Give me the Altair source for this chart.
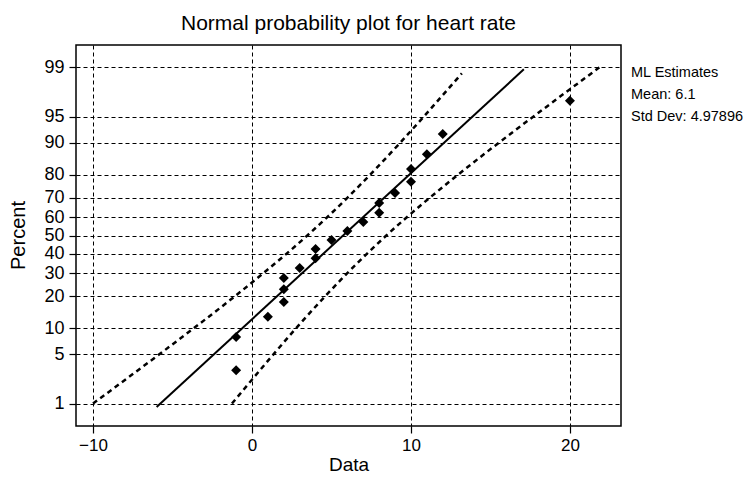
import altair as alt
import pandas as pd
from statistics import NormalDist

nd = NormalDist()

# ---- data ----
data_x = [-1, -1, 1, 2, 2, 2, 3, 4, 4, 5, 6, 7, 8, 8, 9, 10, 10, 11, 12, 20]
data_pct = [3.1, 8.0, 13.0, 17.9, 22.8, 27.8, 32.7, 37.7, 42.6, 47.5,
            52.5, 57.4, 62.3, 67.3, 72.2, 77.2, 82.1, 87.0, 92.0, 96.9]

fit_x = [-6.0, 17.1]
fit_pct = [0.88, 98.93]

left_band_x = [-10.0, -5.83, -3.65, -1.08, 0.7, 3.48, 6.01, 7.43, 9.31, 10.8, 13.2]
left_band_pct = [1, 5, 10, 20, 30, 50, 70, 80, 90, 95, 98.76]
right_band_x = [-1.26, 1.35, 2.78, 4.6, 5.98, 8.45, 11.19, 12.96, 15.51, 17.69, 21.85]
right_band_pct = [1, 5, 10, 20, 30, 50, 70, 80, 90, 95, 99]

y_ticks = [1, 5, 10, 20, 30, 40, 50, 60, 70, 80, 90, 95, 99]
x_ticks = [-10, 0, 10, 20]
x_domain = [-11.07, 23.21]
y_domain_z = [-2.637, 2.637]

ml_text = ["ML Estimates", "Mean: 6.1", "Std Dev: 4.97896"]

FONT = "Liberation Sans"


def z(p):
    return nd.inv_cdf(p / 100.0)


pts = pd.DataFrame({"x": data_x, "z": [z(p) for p in data_pct]})
fit = pd.DataFrame({"x": fit_x, "z": [z(p) for p in fit_pct]})
band = pd.concat([
    pd.DataFrame({"x": left_band_x, "z": [z(p) for p in left_band_pct], "band": "lower", "o": range(len(left_band_x))}),
    pd.DataFrame({"x": right_band_x, "z": [z(p) for p in right_band_pct], "band": "upper", "o": range(len(right_band_x))}),
])

xs = alt.Scale(domain=x_domain, nice=False, zero=False)
ys = alt.Scale(domain=y_domain_z, nice=False, zero=False)

x_axis = alt.Axis(
    values=x_ticks, title="Data", grid=True, gridDash=[4, 3], gridColor="black",
    gridOpacity=1, gridWidth=1, domain=False, tickSize=7, tickColor="black",
    tickWidth=1.2, labelFontSize=17, labelColor="black", labelPadding=4,
    titleFontSize=19, titleFontWeight="normal", titleColor="black",
    titleY=38, titleBaseline="middle", labelFont=FONT, titleFont=FONT,
)
y_axis = alt.Axis(
    values=[z(p) for p in y_ticks],
    labelExpr="round(cumulativeNormal(datum.value) * 100)",
    title="Percent", grid=True, gridDash=[4, 3], gridColor="black",
    gridOpacity=1, gridWidth=1, domain=False, tickSize=7, tickColor="black",
    tickWidth=1.2, labelFontSize=18, labelColor="black", labelPadding=5,
    titleFontSize=20, titleFontWeight="normal", titleColor="black",
    titleX=-58, titleY=190, titleAngle=270, titleAlign="center",
    titleBaseline="middle", labelFont=FONT, titleFont=FONT,
)

enc_x = alt.X("x:Q", scale=xs, axis=x_axis)
enc_y = alt.Y("z:Q", scale=ys, axis=y_axis)

bands = alt.Chart(band).mark_line(
    color="black", strokeWidth=2.5, strokeDash=[5, 4], interpolate="monotone"
).encode(x=enc_x, y=enc_y, detail="band:N", order="o:Q")

fit_line = alt.Chart(fit).mark_line(color="black", strokeWidth=2).encode(x=enc_x, y=enc_y)

points = alt.Chart(pts).mark_point(
    shape="diamond", filled=True, color="black", opacity=1, size=100
).encode(x=enc_x, y=enc_y)

texts = []
for i, t in enumerate(ml_text):
    texts.append(
        alt.Chart(pd.DataFrame({"t": [t]})).mark_text(
            align="left", baseline="middle", fontSize=14.5, font=FONT, color="black"
        ).encode(x=alt.value(555), y=alt.value(28 + 22 * i), text="t:N")
    )

chart = alt.layer(bands, fit_line, points, *texts).properties(
    width=545, height=381,
    title=alt.TitleParams(
        "Normal probability plot for heart rate", fontSize=21, fontWeight="normal",
        font=FONT, color="black", anchor="middle", offset=11,
    ),
    autosize=alt.AutoSizeParams(type="none"),
    padding={"left": 68, "top": 37, "right": 126, "bottom": 50},
).configure_view(stroke="black", strokeWidth=1.5)

chart.save("out.html", embed_options={"renderer": "svg", "actions": False})
